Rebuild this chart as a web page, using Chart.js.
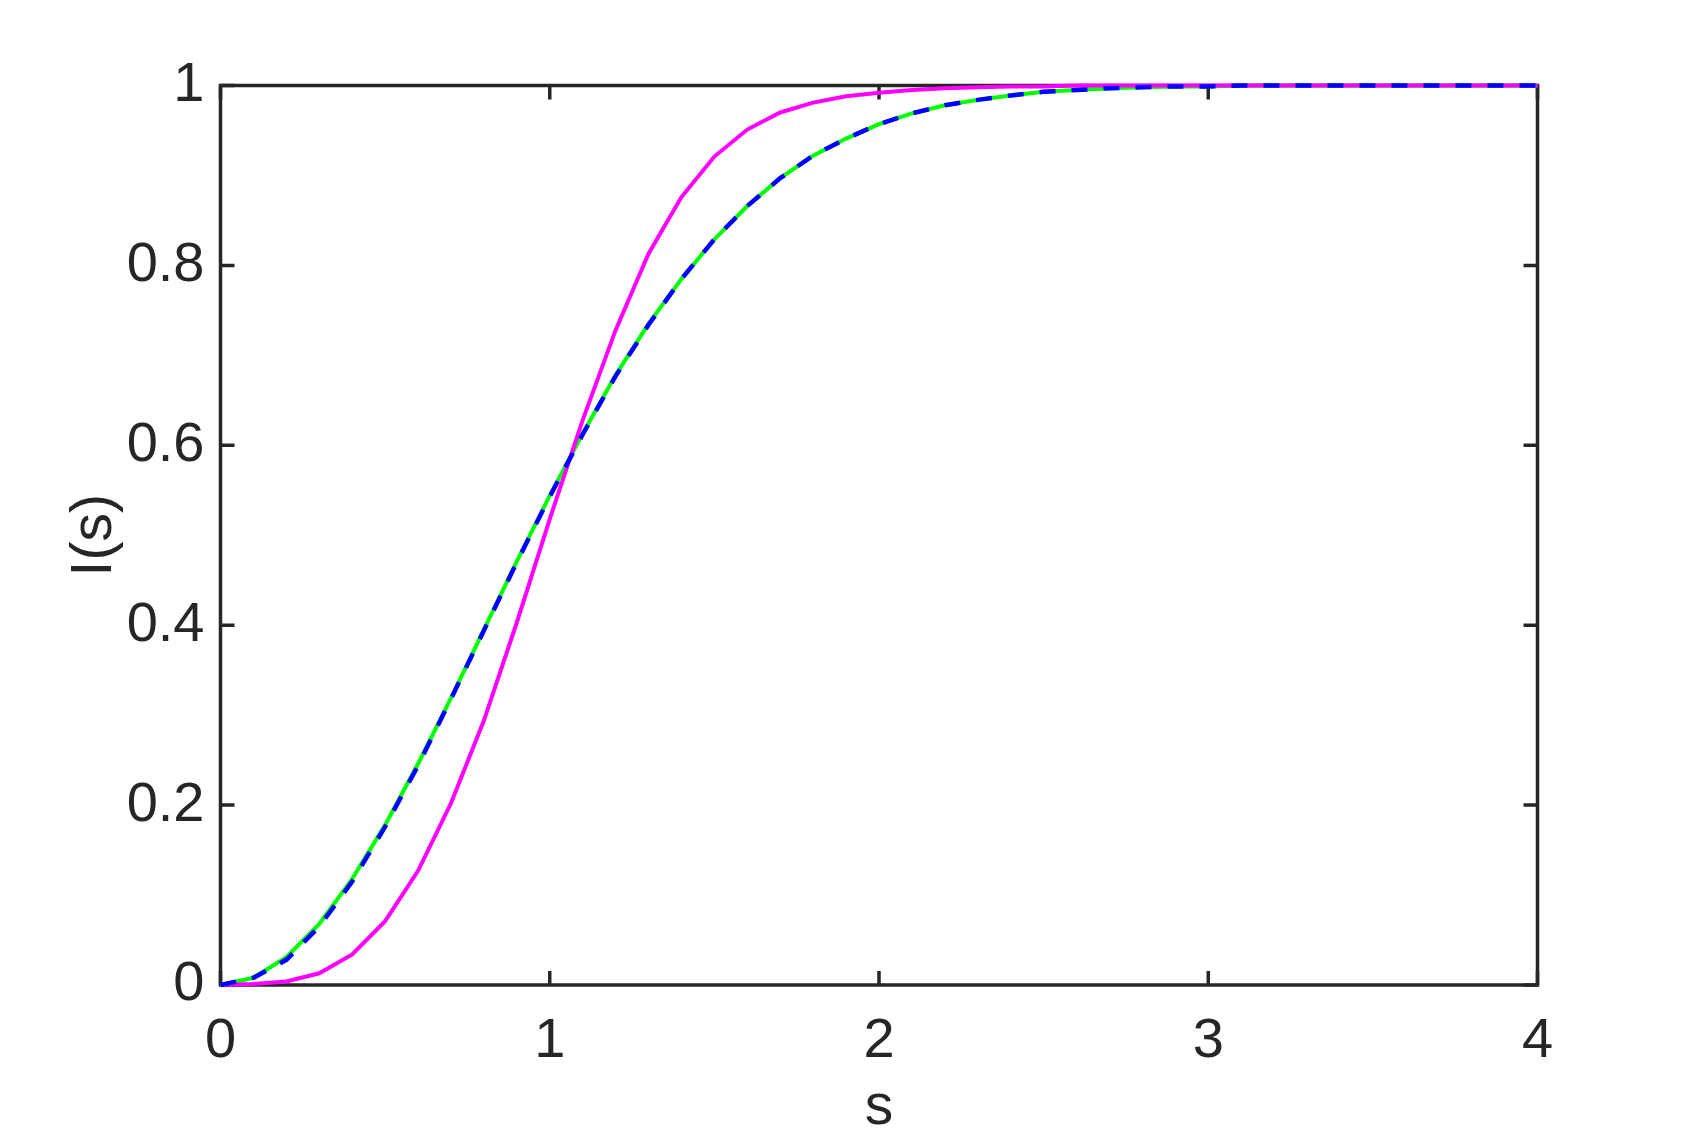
<!DOCTYPE html>
<html>
<head>
<meta charset="utf-8">
<title>I(s)</title>
<script src="https://cdn.jsdelivr.net/npm/chart.js@4.4.1/dist/chart.umd.min.js"></script>
<style>
  html, body { margin: 0; padding: 0; background: #fff; }
  canvas { display: block; }
</style>
</head>
<body>
<canvas id="spacingChart" width="1700" height="1134"></canvas>
<script>
// spacing values s
const sValues = [0, 0.1, 0.2, 0.3, 0.4, 0.5, 0.6, 0.7, 0.8, 0.9,
    1.0, 1.1, 1.2, 1.3, 1.4, 1.5, 1.6, 1.7, 1.8, 1.9,
    2.0, 2.1, 2.2, 2.3, 2.4, 2.5, 2.6, 2.7, 2.8, 2.9,
    3.0, 3.1, 3.2, 3.3, 3.4, 3.5, 3.6, 3.7, 3.8, 3.9, 4.0];

// green solid curve
const greenValues = [0, 0.008, 0.031, 0.068, 0.118, 0.178, 0.246, 0.319, 0.395, 0.471,
    0.544, 0.613, 0.678, 0.735, 0.785, 0.829, 0.866, 0.897, 0.922, 0.941,
    0.957, 0.969, 0.978, 0.984, 0.989, 0.993, 0.995, 0.997, 0.998, 0.999,
    0.999, 1, 1, 1, 1, 1, 1, 1, 1, 1, 1];

// blue dashed curve (almost on top of the green one)
const blueValues = [0, 0.008, 0.028, 0.065, 0.115, 0.176, 0.244, 0.318, 0.394, 0.470,
    0.543, 0.612, 0.677, 0.734, 0.785, 0.829, 0.866, 0.897, 0.922, 0.941,
    0.957, 0.969, 0.978, 0.984, 0.989, 0.993, 0.995, 0.997, 0.998, 0.999,
    0.999, 1, 1, 1, 1, 1, 1, 1, 1, 1, 1];

// magenta solid curve
const magentaValues = [0, 0.001, 0.004, 0.013, 0.034, 0.071, 0.127, 0.202, 0.294, 0.403,
    0.518, 0.628, 0.728, 0.813, 0.876, 0.921, 0.951, 0.970, 0.981, 0.988,
    0.992, 0.995, 0.997, 0.998, 0.999, 0.999, 1, 1, 1, 1,
    1, 1, 1, 1, 1, 1, 1, 1, 1, 1, 1];

const xTicks = [0, 1, 2, 3, 4];
const yTicks = [0, 0.2, 0.4, 0.6, 0.8, 1];

const axisColor = '#262626';
const fontFamily = '"Liberation Sans", Arial, Helvetica, sans-serif';

function toPoints(values) {
    return sValues.map((s, i) => ({ x: s, y: values[i] }));
}

// box around the axes with inward ticks on all four sides, like matlab
const boxPlugin = {
    id: 'boxPlugin',
    beforeDatasetsDraw(chart) {
        const { ctx, chartArea: a, scales } = chart;
        const len = 14;
        ctx.save();
        ctx.strokeStyle = axisColor;
        ctx.lineWidth = 3.5;
        ctx.beginPath();
        xTicks.forEach(v => {
            const px = scales.x.getPixelForValue(v);
            ctx.moveTo(px, a.bottom);
            ctx.lineTo(px, a.bottom - len);
            ctx.moveTo(px, a.top);
            ctx.lineTo(px, a.top + len);
        });
        yTicks.forEach(v => {
            const py = scales.y.getPixelForValue(v);
            ctx.moveTo(a.left, py);
            ctx.lineTo(a.left + len, py);
            ctx.moveTo(a.right, py);
            ctx.lineTo(a.right - len, py);
        });
        ctx.stroke();
        ctx.strokeRect(a.left, a.top, a.right - a.left, a.bottom - a.top);
        ctx.restore();
    }
};

const ctx = document.getElementById('spacingChart').getContext('2d');
const spacingChart = new Chart(ctx, {
    type: 'line',
    data: {
        datasets: [
            {
                // first dataset is drawn on top
                label: 'blue',
                data: toPoints(blueValues),
                borderColor: '#0000ff',
                borderWidth: 4.5,
                borderDash: [16, 16],
                pointRadius: 0,
                tension: 0,
                fill: false,
                clip: false
            },
            {
                label: 'magenta',
                data: toPoints(magentaValues),
                borderColor: '#ff00ff',
                borderWidth: 4,
                pointRadius: 0,
                tension: 0,
                fill: false,
                clip: false
            },
            {
                label: 'green',
                data: toPoints(greenValues),
                borderColor: '#00ff00',
                borderWidth: 4,
                pointRadius: 0,
                tension: 0,
                fill: false,
                clip: false
            }
        ]
    },
    options: {
        responsive: false,
        animation: false,
        devicePixelRatio: 1,
        layout: {
            padding: { left: 0, top: 85.5, right: 162.5, bottom: 0 }
        },
        plugins: {
            legend: { display: false },
            tooltip: { enabled: false }
        },
        scales: {
            x: {
                type: 'linear',
                min: 0,
                max: 4,
                afterFit: scale => { scale.height = 149; },
                afterBuildTicks: scale => { scale.ticks = xTicks.map(v => ({ value: v })); },
                grid: { display: false, drawTicks: false },
                border: { display: false },
                ticks: {
                    padding: 23,
                    color: axisColor,
                    font: { family: fontFamily, size: 56 },
                    callback: v => String(v)
                },
                title: {
                    display: true,
                    text: 's',
                    color: axisColor,
                    font: { family: fontFamily, size: 57, lineHeight: 0.9 },
                    padding: { top: 0, bottom: 0 }
                }
            },
            y: {
                type: 'linear',
                min: 0,
                max: 1,
                afterFit: scale => { scale.width = 220.5; },
                afterBuildTicks: scale => { scale.ticks = yTicks.map(v => ({ value: v })); },
                grid: { display: false, drawTicks: false },
                border: { display: false },
                ticks: {
                    padding: 16,
                    color: axisColor,
                    font: { family: fontFamily, size: 56 },
                    callback: v => String(v)
                },
                title: {
                    display: true,
                    text: 'I(s)',
                    color: axisColor,
                    font: { family: fontFamily, size: 57, lineHeight: 1 },
                    padding: { top: 67, bottom: 0 }
                }
            }
        }
    },
    plugins: [boxPlugin]
});
</script>
</body>
</html>
